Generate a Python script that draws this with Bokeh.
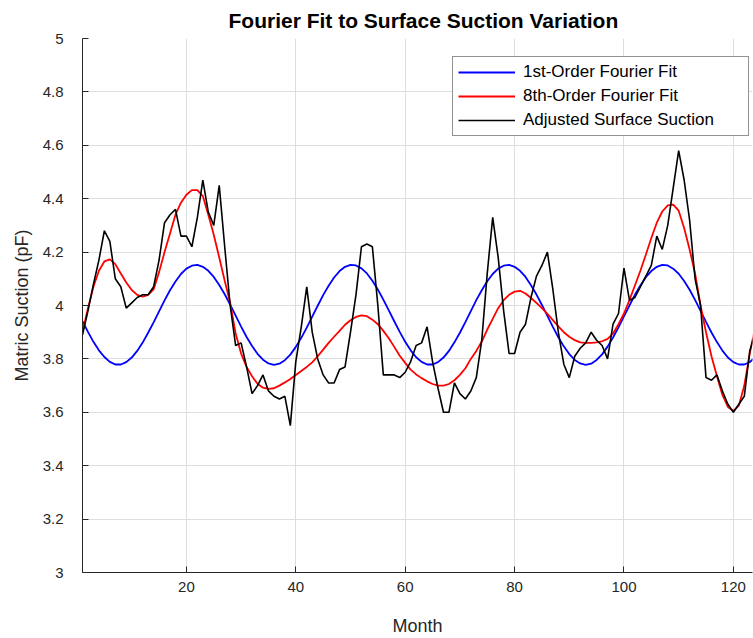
from bokeh.plotting import figure
from bokeh.models import FixedTicker, Legend, LegendItem, Range1d
from bokeh.embed import file_html
from bokeh.resources import INLINE

months = list(range(1, 125))

adjusted_suction = [
    3.89, 3.98, 4.08, 4.17, 4.28, 4.24, 4.10, 4.07, 3.99, 4.01,
    4.03, 4.04, 4.04, 4.07, 4.17, 4.31, 4.34, 4.36, 4.26, 4.26,
    4.22, 4.33, 4.47, 4.35, 4.30, 4.45, 4.22, 4.00, 3.85, 3.86,
    3.77, 3.67, 3.70, 3.74, 3.68, 3.66, 3.65, 3.66, 3.55, 3.79,
    3.92, 4.07, 3.90, 3.80, 3.74, 3.71, 3.71, 3.76, 3.77, 3.90,
    4.04, 4.22, 4.23, 4.22, 4.00, 3.74, 3.74, 3.74, 3.73, 3.75,
    3.79, 3.85, 3.86, 3.92, 3.79, 3.69, 3.60, 3.60, 3.71, 3.67,
    3.65, 3.68, 3.73, 3.87, 4.12, 4.33, 4.18, 3.98, 3.82, 3.82,
    3.90, 3.93, 4.03, 4.11, 4.15, 4.20, 4.06, 3.90, 3.78, 3.73,
    3.81, 3.84, 3.86, 3.90, 3.87, 3.85, 3.80, 3.93, 3.97, 4.14,
    4.02, 4.03, 4.07, 4.11, 4.15, 4.26, 4.21, 4.30, 4.44, 4.58,
    4.47, 4.32, 4.10, 4.00, 3.73, 3.72, 3.74, 3.68, 3.63, 3.60,
    3.63, 3.66, 3.83, 3.90,
]

fit_1st = [
    3.941, 3.901, 3.864, 3.832, 3.807, 3.789, 3.779, 3.779, 3.788, 3.805,
    3.830, 3.861, 3.898, 3.937, 3.978, 4.019, 4.057, 4.090, 4.118, 4.138,
    4.149, 4.152, 4.145, 4.130, 4.107, 4.077, 4.042, 4.003, 3.962, 3.921,
    3.882, 3.848, 3.819, 3.797, 3.783, 3.778, 3.782, 3.795, 3.816, 3.845,
    3.879, 3.917, 3.958, 3.999, 4.039, 4.074, 4.105, 4.129, 4.145, 4.152,
    4.150, 4.139, 4.120, 4.093, 4.060, 4.022, 3.982, 3.941, 3.901, 3.864,
    3.832, 3.806, 3.789, 3.779, 3.779, 3.788, 3.805, 3.830, 3.862, 3.898,
    3.938, 3.979, 4.020, 4.057, 4.091, 4.118, 4.138, 4.149, 4.152, 4.145,
    4.130, 4.107, 4.076, 4.041, 4.002, 3.961, 3.920, 3.881, 3.847, 3.818,
    3.796, 3.783, 3.778, 3.782, 3.796, 3.817, 3.846, 3.880, 3.918, 3.959,
    4.000, 4.040, 4.075, 4.106, 4.129, 4.145, 4.152, 4.150, 4.138, 4.119,
    4.092, 4.059, 4.021, 3.980, 3.939, 3.899, 3.863, 3.831, 3.805, 3.788,
    3.779, 3.779, 3.788, 3.806,
]

fit_8th = [
    3.90, 3.99, 4.07, 4.13, 4.165, 4.173, 4.155, 4.12, 4.086, 4.058,
    4.040, 4.033, 4.040, 4.060, 4.125, 4.20, 4.27, 4.34, 4.385, 4.415,
    4.432, 4.432, 4.41, 4.34, 4.265, 4.18, 4.093, 4.01, 3.895, 3.82,
    3.77, 3.735, 3.707, 3.692, 3.688, 3.69, 3.70, 3.712, 3.725, 3.74,
    3.755, 3.77, 3.787, 3.81, 3.835, 3.86, 3.883, 3.905, 3.928, 3.945,
    3.957, 3.963, 3.96, 3.947, 3.93, 3.905, 3.877, 3.845, 3.812, 3.785,
    3.76, 3.742, 3.728, 3.716, 3.706, 3.70, 3.70, 3.706, 3.72, 3.74,
    3.765, 3.80, 3.83, 3.865, 3.91, 3.95, 3.99, 4.02, 4.04, 4.052,
    4.055, 4.045, 4.028, 4.01, 3.99, 3.969, 3.945, 3.922, 3.90, 3.883,
    3.87, 3.862, 3.86, 3.86, 3.862, 3.866, 3.875, 3.895, 3.93, 3.97,
    4.02, 4.075, 4.13, 4.19, 4.253, 4.31, 4.352, 4.375, 4.378, 4.355,
    4.29, 4.21, 4.12, 4.00, 3.90, 3.81, 3.735, 3.665, 3.62, 3.605,
    3.625, 3.70, 3.82, 3.92,
]

x_ticks = [20, 40, 60, 80, 100, 120]
y_ticks = [3.0, 3.2, 3.4, 3.6, 3.8, 4.0, 4.2, 4.4, 4.6, 4.8, 5.0]
y_tick_labels = ["3", "3.2", "3.4", "3.6", "3.8", "4", "4.2", "4.4", "4.6", "4.8", "5"]

series_labels = ["1st-Order Fourier Fit", "8th-Order Fourier Fit", "Adjusted Surface Suction"]
series_colors = ["#0000ff", "#ff0000", "#000000"]

p = figure(width=753, height=638, output_backend="svg", toolbar_location=None,
           x_range=Range1d(1, 123.5), y_range=Range1d(3, 5),
           min_border_left=82, min_border_right=1, min_border_top=38, min_border_bottom=66)

p.title.text = "Fourier Fit to Surface Suction Variation"
p.title.align = "left"
p.title.offset = 146
p.title.standoff = 13
p.title.text_font = "Liberation Sans"
p.title.text_font_size = "21px"
p.title.text_font_style = "bold"
p.title.text_color = "#000000"

p.outline_line_color = None
p.background_fill_color = "white"

r1 = p.line(months, fit_1st, line_color=series_colors[0], line_width=1.8)
r2 = p.line(months, fit_8th, line_color=series_colors[1], line_width=1.8)
r3 = p.line(months, adjusted_suction, line_color=series_colors[2], line_width=1.6)

for ax in (p.xaxis[0], p.yaxis[0]):
    ax.axis_line_color = "#262626"
    ax.major_tick_line_color = "#262626"
    ax.major_tick_in = 6
    ax.major_tick_out = 0
    ax.minor_tick_line_color = None
    ax.major_label_text_font = "Liberation Sans"
    ax.major_label_text_font_size = "15px"
    ax.major_label_text_color = "#262626"
    ax.axis_label_text_font = "Liberation Sans"
    ax.axis_label_text_font_size = "18px"
    ax.axis_label_text_font_style = "normal"
    ax.axis_label_text_color = "#262626"

p.xaxis.ticker = FixedTicker(ticks=x_ticks)
p.yaxis.ticker = FixedTicker(ticks=y_ticks)
p.yaxis.major_label_overrides = {t: l for t, l in zip(y_ticks, y_tick_labels)}
p.xaxis.axis_label = "Month"
p.yaxis.axis_label = "Matric Suction (pF)"
p.xaxis.major_label_standoff = 9
p.yaxis.major_label_standoff = 19
p.xaxis.axis_label_standoff = 21
p.yaxis.axis_label_standoff = 8

p.xgrid.ticker = FixedTicker(ticks=x_ticks)
p.ygrid.ticker = FixedTicker(ticks=y_ticks)
p.grid.grid_line_color = "#dedede"
p.grid.grid_line_width = 1

legend = Legend(items=[LegendItem(label=series_labels[0], renderers=[r1]),
                       LegendItem(label=series_labels[1], renderers=[r2]),
                       LegendItem(label=series_labels[2], renderers=[r3])],
                location=(370, 436))
legend.border_line_color = "#262626"
legend.border_line_width = 1
legend.background_fill_alpha = 1
legend.label_text_font = "Liberation Sans"
legend.label_text_font_size = "17px"
legend.label_text_color = "#000000"
legend.glyph_width = 57
legend.glyph_height = 20
legend.label_height = 20
legend.label_width = 220
legend.spacing = 4
legend.padding = 5
legend.margin = 0
legend.label_standoff = 8
p.add_layout(legend, "center")

open("out.html", "w").write(file_html(p, INLINE))
